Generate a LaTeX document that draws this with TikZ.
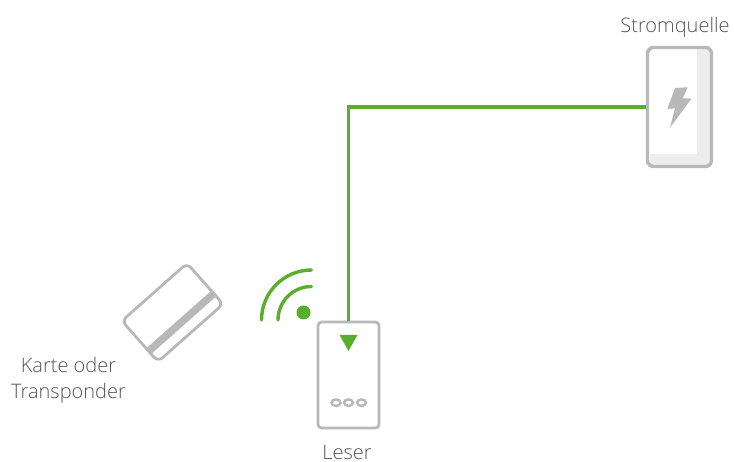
\documentclass[tikz,border=0pt]{standalone}
\usepackage{fontspec}
\usetikzlibrary{shapes.geometric}
\setmainfont{Open Sans Light}
\definecolor{grn}{HTML}{5AAE2E}
\definecolor{gry}{HTML}{B8B8B8}
\definecolor{lgt}{HTML}{EDEDED}
\definecolor{txt}{HTML}{555555}
\tikzset{
  device/.style={draw=gry,line width=3.4pt,rounded corners=6pt,fill=none,inner sep=0pt,minimum width=#1},
  device/.default=60pt,
  wire/.style={draw=grn,line width=3.3pt},
  wave/.style={draw=grn,line width=3.4pt,line cap=round},
  lbl/.style={text=txt,font=\fontsize{20}{26.5}\selectfont,inner sep=0pt},
  led/.style={draw=gry,fill=white,line width=2.4pt,ellipse,minimum width=9pt,minimum height=6.5pt,inner sep=0pt}
}
\begin{document}
\begin{tikzpicture}[x=1pt,y=-1pt]
\useasboundingbox (0,0) rectangle (734,462);
% power source
\fill[lgt] (650,48) rectangle (711,166);
\fill[white] (648,48) rectangle (697,154);
\node[device=64pt,minimum height=119pt] (power) at (679.5,107) {};
\fill[gry] (675,88) -- (687.7,87.3) -- (682.7,98.3) -- (691.7,98.3) -- (670,127.7) -- (675,108.3) -- (667.3,109) -- cycle;
% reader
\node[device=61pt,minimum height=106pt,line width=2.8pt,rounded corners=3.5pt] (reader) at (348.5,375) {};
\fill[grn] (339.5,335) -- (357.5,335) -- (348.5,351) -- cycle;
\node[led] (l1) at (336,402.7) {};
\node[led] (l2) at (348.5,402.7) {};
\node[led] (l3) at (361.5,402.7) {};
% connector
\draw[wire] (reader.north) |- (power.west);
% wireless
\fill[grn] (303.5,312.5) circle (7pt);
\draw[wave] (278,320) arc[start angle=180,end angle=90,radius=33.5pt];
\draw[wave] (261.5,320) arc[start angle=180,end angle=90,radius=50pt];
% card
\node[device=87pt,minimum height=54.5pt,draw=gry,line width=2.8pt,rotate=41.5] (card) at (172.5,312.5) {};
\path (card.north west) -- (card.south west) coordinate[pos=0.73] (sl);
\path (card.north east) -- (card.south east) coordinate[pos=0.73] (sr);
\draw[gry,line width=7.5pt] (sl) -- (sr);
% labels
\node[lbl] (t1) at (675,27) {Stromquelle};
\node[lbl,align=center] (t2) at (68.5,380.5) {Karte oder\\Transponder};
\node[lbl] (t3) at (347,452) {Leser};
\end{tikzpicture}
\end{document}
